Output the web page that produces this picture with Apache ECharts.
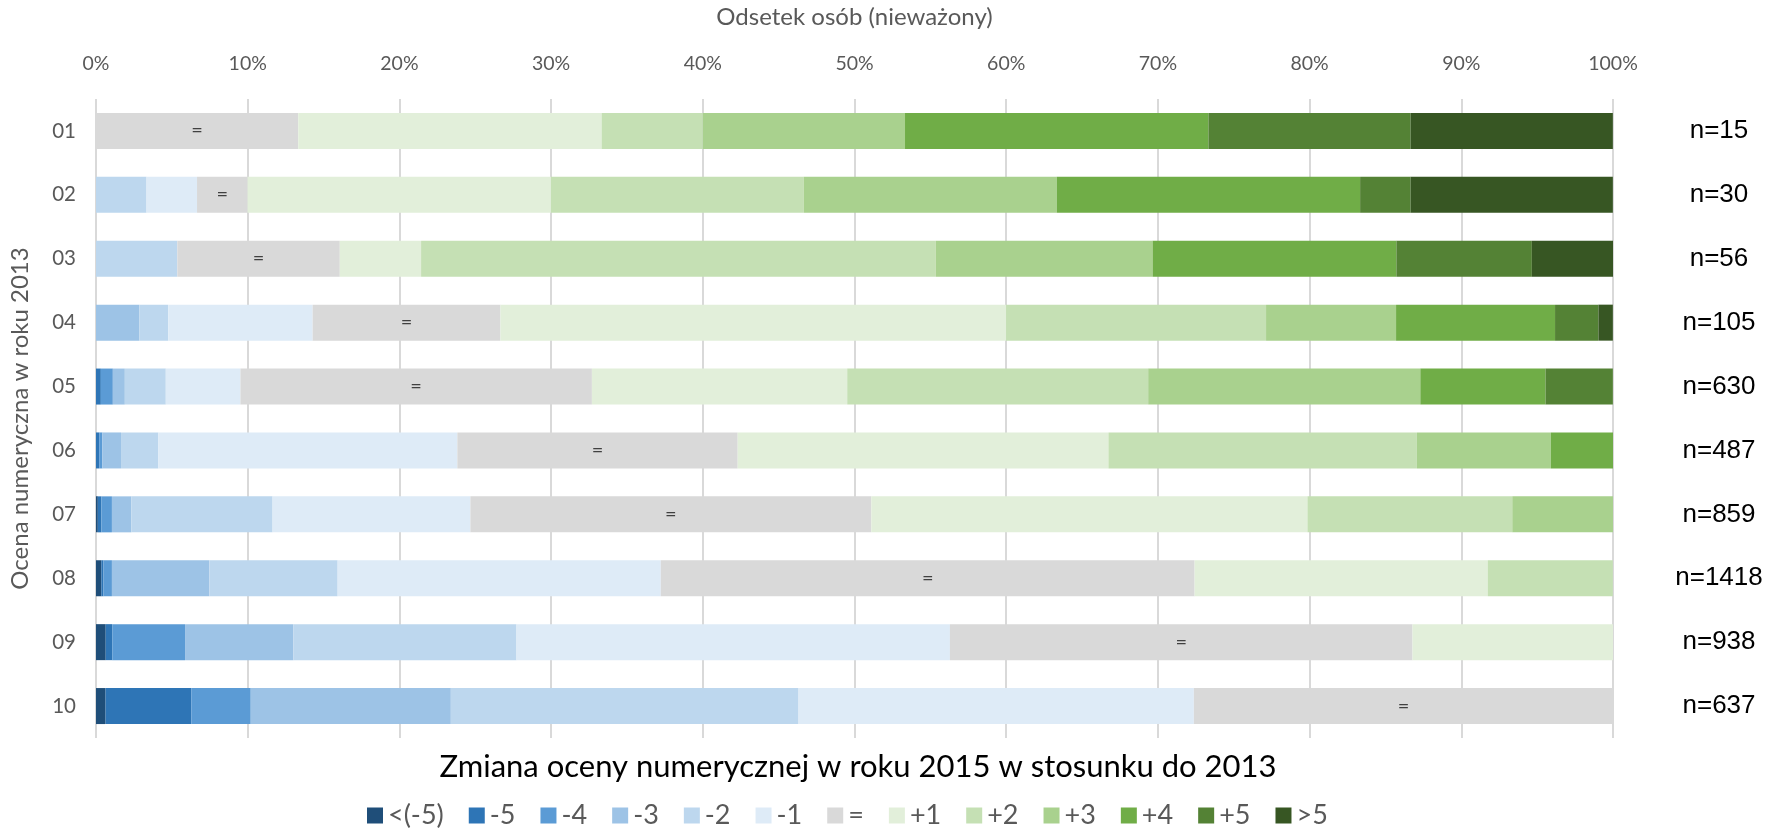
<!DOCTYPE html>
<html>
<head>
<meta charset="utf-8">
<script src="https://cdn.jsdelivr.net/npm/echarts@6/dist/echarts.min.js"></script>
<style>
  html, body { margin: 0; padding: 0; background: #fff; }
  #chart { width: 1766px; height: 831px; }
</style>
</head>
<body>
<div id="chart"></div>
<script>
// Categories (grade in 2013) and sample sizes
const categories = ['01', '02', '03', '04', '05', '06', '07', '08', '09', '10'];
const nLabels = ['n=15', 'n=30', 'n=56', 'n=105', 'n=630', 'n=487', 'n=859', 'n=1418', 'n=938', 'n=637'];
const xTicks = [0, 10, 20, 30, 40, 50, 60, 70, 80, 90, 100];

// Series: share of persons (%) by change of grade 2015 vs 2013
const ltMinus5 = [0, 0, 0, 0, 0, 0, 0.12, 0.35, 0.64, 0.63];
const minus5   = [0, 0, 0, 0, 0.32, 0.21, 0.23, 0.14, 0.43, 5.65];
const minus4   = [0, 0, 0, 0, 0.79, 0.21, 0.70, 0.56, 4.80, 3.92];
const minus3   = [0, 0, 0, 2.86, 0.79, 1.23, 1.28, 6.42, 7.14, 13.19];
const minus2   = [0, 3.33, 5.36, 1.90, 2.70, 2.46, 9.31, 8.46, 14.71, 22.92];
const minus1   = [0, 3.33, 0, 9.52, 4.92, 19.71, 13.04, 21.30, 28.57, 26.06];
const equal    = [13.33, 3.33, 10.71, 12.38, 23.17, 18.48, 26.43, 35.19, 30.49, 27.63];
const plus1    = [20.00, 20.00, 5.36, 33.33, 16.83, 24.44, 28.75, 19.32, 13.22, 0];
const plus2    = [6.67, 16.67, 33.93, 17.14, 19.84, 20.33, 13.50, 8.25, 0, 0];
const plus3    = [13.33, 16.67, 14.29, 8.57, 17.94, 8.83, 6.64, 0, 0, 0];
const plus4    = [20.00, 20.00, 16.07, 10.48, 8.25, 4.11, 0, 0, 0, 0];
const plus5    = [13.33, 3.33, 8.93, 2.86, 4.44, 0, 0, 0, 0, 0];
const gtPlus5  = [13.33, 13.33, 5.36, 0.95, 0, 0, 0, 0, 0, 0];

const seriesNames = ['<(-5)', '-5', '-4', '-3', '-2', '-1', '=', '+1', '+2', '+3', '+4', '+5', '>5'];
const seriesData = [ltMinus5, minus5, minus4, minus3, minus2, minus1, equal, plus1, plus2, plus3, plus4, plus5, gtPlus5];
const seriesColors = ['#1F4E79', '#2E75B6', '#5B9BD5', '#9DC3E6', '#BDD7EE', '#DEEBF7', '#D9D9D9',
                      '#E2EFDA', '#C5E0B4', '#A9D18E', '#70AD47', '#548235', '#375623'];

const FONT = 'Lato, "Open Sans", sans-serif';

const series = seriesNames.map((name, i) => ({
  name: name,
  type: 'bar',
  stack: 'total',
  barWidth: 36,
  data: seriesData[i].map(v => (v === 0 ? null : v)),
  itemStyle: { color: seriesColors[i] },
  label: name === '=' ? {
    show: true,
    position: 'inside',
    formatter: '=',
    color: '#404040',
    fontSize: 20,
    fontFamily: FONT
  } : { show: false },
  emphasis: { disabled: true }
}));

const chart = echarts.init(document.getElementById('chart'), null, { renderer: 'canvas' });
chart.setOption({
  animation: false,
  backgroundColor: '#ffffff',
  title: {
    text: 'Zmiana oceny numerycznej w roku 2015 w stosunku do 2013',
    left: 853,
    textAlign: 'center',
    top: 746,
    textStyle: { fontFamily: FONT, fontSize: 31, fontWeight: 'normal', color: '#000000' }
  },
  legend: {
    data: seriesNames,
    left: 362,
    top: 797,
    itemWidth: 16,
    itemHeight: 16,
    itemGap: 25,
    icon: 'rect',
    textStyle: { fontFamily: FONT, fontSize: 27, color: '#595959' }
  },
  grid: { left: 94, right: 153, top: 89, bottom: 93, containLabel: false },
  xAxis: {
    type: 'value',
    position: 'top',
    min: xTicks[0],
    max: xTicks[xTicks.length - 1],
    interval: xTicks[1] - xTicks[0],
    name: 'Odsetek osób (nieważony)',
    nameLocation: 'middle',
    nameGap: 70,
    nameTextStyle: { fontFamily: FONT, fontSize: 24, color: '#595959' },
    axisLine: { show: false },
    axisTick: { show: false },
    axisLabel: { formatter: '{value}%', fontFamily: FONT, fontSize: 19.5, color: '#595959', margin: 25 },
    splitLine: { show: true, lineStyle: { color: '#D9D9D9', width: 2 } }
  },
  yAxis: [
    {
      type: 'category',
      data: categories,
      inverse: true,
      name: 'Ocena numeryczna w roku 2013',
      nameLocation: 'middle',
      nameRotate: 90,
      nameGap: 64,
      nameTextStyle: { fontFamily: FONT, fontSize: 24, color: '#595959' },
      axisLine: { show: false },
      axisTick: { show: false },
      axisLabel: { fontFamily: FONT, fontSize: 20.5, color: '#595959', margin: 20 }
    },
    {
      type: 'category',
      data: nLabels,
      inverse: true,
      position: 'right',
      axisLine: { show: false },
      axisTick: { show: false },
      axisLabel: { fontFamily: '"Liberation Sans", Arial, sans-serif', fontSize: 26, color: '#000000', align: 'center', margin: 106 }
    }
  ],
  series: series
});
</script>
</body>
</html>
